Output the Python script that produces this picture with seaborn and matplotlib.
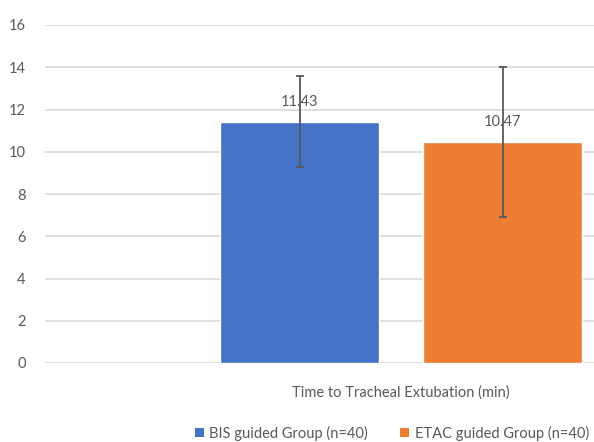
import matplotlib
matplotlib.use("Agg")
import matplotlib.pyplot as plt
import seaborn as sns
import pandas as pd
from matplotlib.patches import Patch

categories = ["Time to Tracheal Extubation (min)"]
groups = ["BIS guided Group (n=40)", "ETAC guided Group (n=40)"]
means = [11.43, 10.47]
sds = [2.15, 3.55]
colors = ["#4472C4", "#ED7D31"]
yticks = [0, 2, 4, 6, 8, 10, 12, 14, 16]

df = pd.DataFrame({"cat": categories * len(groups), "group": groups, "value": means})

sns.set_theme(style="white")
plt.rcParams["font.family"] = ["Lato", "DejaVu Sans"]
text_color = "#595959"

fig = plt.figure(figsize=(5.94, 4.42), dpi=100)
ax = fig.add_axes([45 / 594, (442 - 363) / 442, (594 - 45) / 594, 338 / 442])

sns.barplot(data=df, x="cat", y="value", hue="group", hue_order=groups,
            palette=colors, width=0.8, gap=0.217, errorbar=None,
            saturation=1, legend=False, ax=ax)

bars = [p for p in ax.patches]
for p, sd in zip(bars, sds):
    cx = p.get_x() + p.get_width() / 2
    ax.errorbar(cx, p.get_height(), yerr=sd, fmt="none", ecolor="#595959",
                elinewidth=1.3, capsize=3, capthick=1.3, zorder=5)

for container, m in zip(ax.containers, means):
    ax.bar_label(container, labels=[f"{m:.2f}"], padding=9, fontsize=10.5,
                 color=text_color)

ax.set_ylim(0, 16)
ax.set_yticks(yticks)
ax.set_xlim(-0.7015, 0.380)
ax.yaxis.grid(True, color="#d9d9d9", linewidth=1.2)
ax.set_axisbelow(True)
for s in ax.spines.values():
    s.set_visible(False)
ax.set_xlabel("")
ax.set_ylabel("")
ax.tick_params(axis="y", length=0, pad=14, labelsize=10.5, labelcolor=text_color)
ax.tick_params(axis="x", length=0, pad=16, labelsize=10.5, labelcolor=text_color)

handles = [Patch(facecolor=c, edgecolor="none", label=g) for c, g in zip(colors, groups)]
fig.legend(handles=handles, loc="center", bbox_to_anchor=(392 / 594, 1 - 433 / 442),
           ncol=2, frameon=False, fontsize=10.5, handlelength=0.6, handleheight=0.6,
           handletextpad=0.4, columnspacing=2.2, labelcolor=text_color)

fig.savefig("out.png", dpi=100)
